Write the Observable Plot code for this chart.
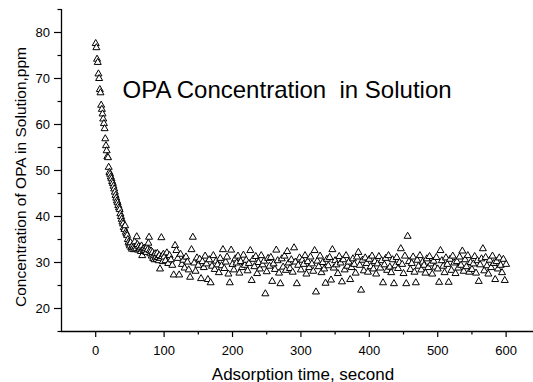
<!DOCTYPE html>
<html><head><meta charset="utf-8">
<script src="https://cdn.jsdelivr.net/npm/d3@7"></script>
<script src="https://cdn.jsdelivr.net/npm/@observablehq/plot@0.6"></script>
<style>
html,body{margin:0;padding:0;background:#fff;}
svg text{white-space:pre;}
</style></head><body><div id="chart"></div>
<script>
// Decay phase: one reading per second from t = 0
const decayStart = 0, decayStep = 1;
const decayValues = [
  77.6,76.7,74.2,73.5,71.0,70.0,67.6,66.9,64.2,63.3,
  62.3,61.2,60.2,59.1,56.9,55.4,54.3,53.0,52.8,50.7,
  49.6,49.2,48.6,48.2,47.6,47.2,46.6,46.0,45.3,44.6,
  44.0,43.4,43.0,42.4,41.9,41.5,40.6,40.0,39.4,38.8,
  38.4,37.6,37.2,38.0,36.6,36.2,35.9,35.0,34.4,34.0,
  33.6,34.3,33.2,32.9,33.8,33.3,32.8,34.5,33.4,33.0,
  35.6,33.9,32.7,33.5,32.9,33.2,32.4,33.6,31.5,32.9,
  32.4,33.1,32.6,33.0,32.2,33.4,32.8,34.2,35.5,32.6,
  31.9,32.5,31.4,32.2,30.9,31.6,30.6,31.9,31.2,30.7,
  32.0,31.1,30.4,31.5,28.6,30.9,35.4,31.3,30.2,31.8
];
// Plateau phase: one reading every 2 seconds from t = 100
const plateauStart = 100, plateauStep = 2;
const plateauValues = [
  31.2,30.4,32.1,29.8,31.5,30.6,29.4,27.3,33.7,32.6,
  30.9,27.3,31.8,29.6,30.5,28.8,31.2,30.1,28.4,26.8,
  32.8,35.5,29.9,28.1,31.0,29.4,30.7,26.5,30.2,28.9,
  31.4,29.7,26.3,30.6,25.6,29.2,31.5,28.5,30.3,29.5,
  27.8,30.9,29.3,32.8,28.7,30.1,31.2,27.5,25.6,32.7,
  29.6,28.4,30.8,29.9,31.4,27.7,30.2,28.9,31.6,29.4,
  30.5,28.2,29.8,32.6,26.1,30.7,29.1,31.3,27.6,30.0,
  28.6,31.5,29.5,30.3,23.2,28.0,30.9,29.2,31.1,25.9,
  29.7,28.5,32.7,30.4,27.7,25.4,30.8,29.0,31.4,28.3,
  32.4,29.9,28.7,30.6,27.9,33.2,30.1,25.4,29.4,31.0,
  28.4,30.5,29.6,31.5,27.5,30.2,28.9,31.2,29.7,28.1,
  32.6,23.6,30.3,29.1,31.4,27.8,30.0,28.6,25.5,30.7,
  29.3,31.1,26.2,32.8,28.8,30.4,29.5,27.6,31.3,29.9,
  25.8,30.6,28.4,31.5,29.2,30.1,26.3,28.9,30.8,29.6,
  27.7,31.2,32.2,29.4,24.0,30.5,28.2,31.0,29.8,27.9,
  30.7,29.1,31.4,28.6,30.2,27.5,29.7,31.3,28.8,30.4,
  25.6,29.5,30.9,28.3,31.5,29.0,27.8,30.6,25.4,29.3,
  31.1,28.7,30.0,33.0,29.6,27.6,31.4,25.4,35.7,30.2,
  28.5,29.8,31.2,27.9,25.6,30.5,29.2,31.5,28.4,30.1,
  29.4,27.7,30.8,28.9,31.3,29.7,27.5,30.3,29.0,31.1,
  28.6,25.7,32.6,30.4,29.2,27.8,31.0,29.6,25.7,30.7,
  28.3,31.4,29.9,27.6,30.2,28.8,31.2,29.4,32.5,28.1,
  30.6,29.1,31.5,27.9,30.0,28.5,29.7,31.3,27.7,30.4,
  25.9,29.5,30.8,33.0,28.2,31.1,29.3,27.5,30.5,28.9,
  31.4,29.8,26.3,30.2,28.6,31.0,29.4,27.8,30.7,26.1,
  29.6
];
const xMajorTicks = [0,100,200,300,400,500,600];
const xMinorTicks = [50,150,250,350,450,550];
const yMajorTicks = [20,30,40,50,60,70,80];
const yMinorTicks = [15,25,35,45,55,65,75,85];
const titleText = "OPA Concentration  in Solution";
const xLabel = "Adsorption time, second";
const yLabel = "Concentration of OPA in Solution,ppm";

const data = [
  ...decayValues.map((v, i) => ({t: decayStart + i * decayStep, c: v})),
  ...plateauValues.map((v, i) => ({t: plateauStart + i * plateauStep, c: v}))
];

const chart = Plot.plot({
  width: 533, height: 382,
  marginTop: 9, marginRight: 0, marginBottom: 51, marginLeft: 61,
  style: {fontFamily: "Arial, 'Liberation Sans', sans-serif", background: "#fff", color: "#000"},
  x: {domain: [-50, 640]},
  y: {domain: [15, 85]},
  marks: [
    Plot.axisX(xMinorTicks, {tickSize: 3.5, tickFormat: () => "", label: null, strokeWidth: 1.2}),
    Plot.axisX(xMajorTicks, {tickSize: 6, tickPadding: 8, fontSize: 13, label: null, strokeWidth: 1.2}),
    Plot.axisY(yMinorTicks, {tickSize: 3.5, tickFormat: () => "", label: null, strokeWidth: 1.2}),
    Plot.axisY(yMajorTicks, {tickSize: 7, tickPadding: 4.5, fontSize: 13, label: null, strokeWidth: 1.2}),
    Plot.ruleX([-50], {stroke: "#000", strokeWidth: 1.3}),
    Plot.ruleY([15], {stroke: "#000", strokeWidth: 1.3}),
    Plot.dot(data, {x: "t", y: "c", symbol: "triangle", r: 2.6, stroke: "#000", fill: "#fff", strokeWidth: 1}),
    Plot.text([titleText], {text: d => d, frameAnchor: "top-left", textAnchor: "start", lineAnchor: "bottom", dx: 61, dy: 88, fontSize: 24}),
    Plot.text([xLabel], {text: d => d, frameAnchor: "bottom", textAnchor: "middle", lineAnchor: "bottom", dx: 5.5, dy: 48, fontSize: 17}),
    Plot.text([yLabel], {text: d => d, frameAnchor: "left", textAnchor: "middle", rotate: -90, lineAnchor: "bottom", dx: -36, dy: 6.5, fontSize: 15.5})
  ]
});
document.getElementById("chart").appendChild(chart);
</script>
</body></html>
